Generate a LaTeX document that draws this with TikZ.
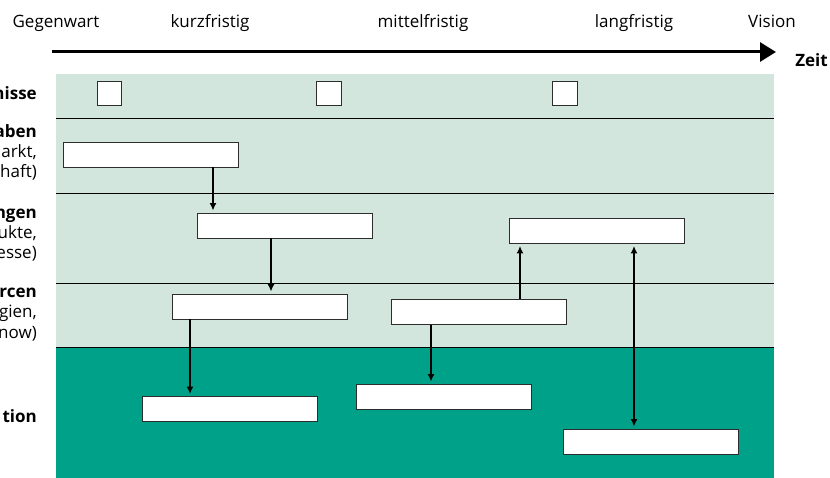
\documentclass[tikz,border=0pt]{standalone}
\usepackage{fontspec}
\setmainfont{Open Sans}
\usetikzlibrary{arrows.meta}
\definecolor{bandlight}{RGB}{210,230,222}
\definecolor{banddark}{RGB}{0,161,137}
\definecolor{boxline}{RGB}{45,45,45}

\begin{document}
\begin{tikzpicture}[x=1pt,y=-1pt,
  lbl/.style={inner sep=0pt, font=\fontsize{17}{20}\selectfont},
  lblb/.style={lbl, font=\fontsize{17}{20}\selectfont\bfseries},
  stepbox/.style={draw=boxline, line width=0.9pt, fill=white, inner sep=0pt,
                  minimum width=175pt, minimum height=25pt},
  milestone/.style={draw=boxline, line width=0.9pt, fill=white, inner sep=0pt,
                    minimum size=24.5pt},
  flow/.style={line width=1.5pt, -{Latex[length=7.5pt,width=7pt]}, shorten >=2pt},
  flowboth/.style={line width=1.5pt, {Latex[length=7.5pt,width=7pt]}-{Latex[length=7.5pt,width=7pt]}, shorten >=2pt, shorten <=2pt},
  rowline/.style={line width=0.9pt, black}
]
\useasboundingbox (0,0) rectangle (830,478);

% background bands
\fill[bandlight] (56,74) rectangle (774,347);
\fill[banddark] (56,347) rectangle (774,478);
\draw[rowline] (56,118) -- (774,118);
\draw[rowline] (56,193) -- (774,193);
\draw[rowline] (56,283) -- (774,283);
\draw[rowline] (56,347) -- (774,347);

% time axis
\coordinate (ax0) at (52,52);
\coordinate (ax1) at (776,52);
\draw[line width=3pt, -{Triangle[length=16pt,width=19pt]}] (ax0) -- (ax1);

% horizon labels
\node[lbl, anchor=base] (h0) at (56,27.5) {Gegenwart};
\node[lbl, anchor=base] (h1) at (210,27.5) {kurzfristig};
\node[lbl, anchor=base] (h2) at (423,27.5) {mittelfristig};
\node[lbl, anchor=base] (h3) at (634,27.5) {langfristig};
\node[lbl, anchor=base] (h4) at (772,27.5) {Vision};
\node[lblb, anchor=base east] (zeit) at (828,67) {Zeit};

% row labels
\node[lblb, anchor=base east] (r1) at (37,100) {nisse};
\node[lblb, anchor=base east] (r2a) at (37,138) {aben};
\node[lbl, anchor=base east] (r2b) at (37,158) {arkt,};
\node[lbl, anchor=base east] (r2c) at (37,178) {haft)};
\node[lblb, anchor=base east] (r3a) at (37,219) {ngen};
\node[lbl, anchor=base east] (r3b) at (37,239) {ukte,};
\node[lbl, anchor=base east] (r3c) at (37,259) {esse)};
\node[lblb, anchor=base east] (r4a) at (37,298) {rcen};
\node[lbl, anchor=base east] (r4b) at (37,318) {gien,};
\node[lbl, anchor=base east] (r4c) at (37,338) {now)};
\node[lblb, anchor=base east] (r5) at (37,422) {tion};

% milestones
\node[milestone] (s1) at (109.5,93.5) {};
\node[milestone] (s2) at (329,93.5) {};
\node[milestone] (s3) at (565,93.5) {};

% roadmap boxes
\node[stepbox] (b1) at (151,154.5) {};
\node[stepbox] (b2) at (284.5,225.5) {};
\node[stepbox] (b3) at (259.5,306.5) {};
\node[stepbox] (b4) at (479,312) {};
\node[stepbox] (b5) at (596.5,231) {};
\node[stepbox] (b6) at (229.5,409) {};
\node[stepbox] (b7) at (443.5,396.5) {};
\node[stepbox] (b8) at (651,441.5) {};

% x positions of the links
\coordinate (x1) at (213,0);
\coordinate (x2) at (271,0);
\coordinate (x3) at (190,0);
\coordinate (x4) at (431,0);
\coordinate (x5) at (520,0);
\coordinate (x6) at (634,0);

% links
\draw[flow] (b1.south -| x1) -- (b2.north -| x1);
\draw[flow] (b2.south -| x2) -- (b3.north -| x2);
\draw[flow] (b3.south -| x3) -- (b6.north -| x3);
\draw[flow] (b4.south -| x4) -- (b7.north -| x4);
\draw[flow] (b4.north -| x5) -- (b5.south -| x5);
\draw[flowboth] (b5.south -| x6) -- (b8.north -| x6);
\end{tikzpicture}
\end{document}
